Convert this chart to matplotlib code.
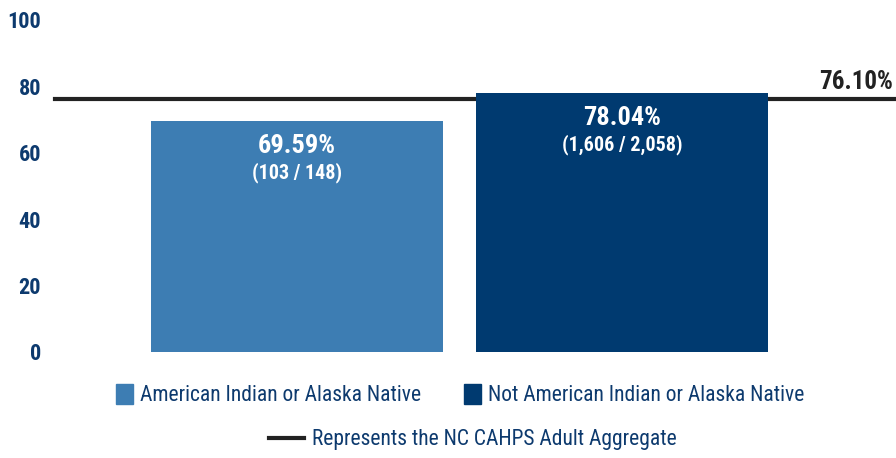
import matplotlib
matplotlib.use("Agg")
import matplotlib.pyplot as plt
from matplotlib import font_manager
from matplotlib.patches import Patch
from matplotlib.lines import Line2D

# ── data ────────────────────────────────────────────────────────────────
categories = ["American Indian or Alaska Native",
              "Not American Indian or Alaska Native"]
rates = [69.59, 78.04]
counts = ["(103 / 148)", "(1,606 / 2,058)"]
aggregate = 76.10
aggregate_label = "Represents the NC CAHPS Adult Aggregate"
yticks = [0, 20, 40, 60, 80, 100]

colors = ["#3d7db3", "#003a70"]
navy = "#0d3a6e"

names = {f.name for f in font_manager.fontManager.ttflist}
family = next((f for f in ["Liberation Sans Narrow", "Roboto Condensed",
                           "Roboto", "DejaVu Sans"] if f in names))
plt.rcParams["font.family"] = [family, "DejaVu Sans"]

fig = plt.figure(figsize=(8.96, 4.58), dpi=100)
ax = fig.add_axes([55 / 896, 106 / 458, 841 / 896, 332 / 458])

x = list(range(len(categories)))
ax.bar(x, rates, width=0.9, color=colors, zorder=2)
ax.set_xlim(-0.745, 1.843)
ax.set_ylim(0, 100)

for xi, r, c in zip(x, rates, counts):
    ax.annotate(f"{r:.2f}%", (xi, r), xytext=(0, -18), textcoords="offset points",
                ha="center", va="center", color="white", fontsize=19,
                fontweight="bold", zorder=3)
    ax.annotate(c, (xi, r), xytext=(0, -37), textcoords="offset points",
                ha="center", va="center", color="white", fontsize=14.5,
                fontweight="bold", zorder=3)

ax.axhline(aggregate, color="#222222", lw=3, clip_on=False, zorder=1)
ax.annotate(f"{aggregate:.2f}%", (1.843, aggregate), xytext=(-2, 4),
            textcoords="offset points", ha="right", va="bottom",
            color="#222222", fontsize=18, fontweight="bold")

ax.set_xticks([])
ax.set_yticks(yticks)
ax.set_yticklabels([str(t) for t in yticks], color=navy, fontsize=16,
                   fontweight="bold")
ax.tick_params(axis="y", length=0, pad=10)
for s in ax.spines.values():
    s.set_visible(False)

h1 = [Patch(color=c) for c in colors]
fig.legend(h1, categories, loc="center", bbox_to_anchor=(460 / 896, 1 - 395 / 458),
           ncol=2, frameon=False, fontsize=15.5, handlelength=0.8,
           handleheight=1.1, handletextpad=0.3, columnspacing=2.0,
           labelcolor=navy)
h2 = [Line2D([0], [0], color="#222222", lw=3)]
fig.legend(h2, [aggregate_label], loc="center", bbox_to_anchor=(473 / 896, 1 - 440 / 458),
           frameon=False, fontsize=15.5, handlelength=1.6, handletextpad=0.4,
           labelcolor=navy)

fig.savefig("out.png", dpi=100)
